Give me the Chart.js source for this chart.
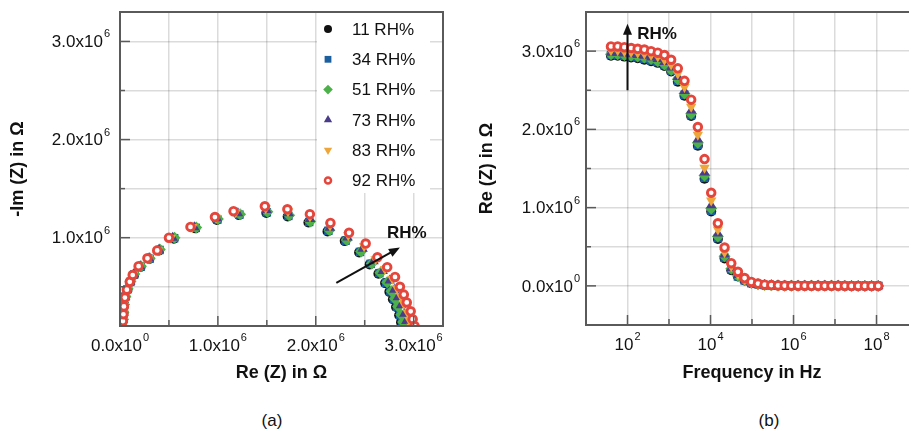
<!DOCTYPE html>
<html>
<head>
<meta charset="utf-8">
<script src="https://cdn.jsdelivr.net/npm/chart.js@4.4.1/dist/chart.umd.min.js"></script>
<style>
    html, body { margin: 0; padding: 0; background: #fff; overflow: hidden; width: 909px; height: 433px; }
    #wrapA { position: absolute; left: 0; top: 0; }
    #wrapB { position: absolute; left: 470px; top: 0; }
    .cap { position: absolute; top: 411px; width: 60px; text-align: center; color: #111;
           font: 17px "Liberation Sans", Arial, sans-serif; }
</style>
</head>
<body>
<div id="wrapA"><canvas id="nyquistChart" width="460" height="390"></canvas></div>
<div id="wrapB"><canvas id="reChart" width="460" height="390"></canvas></div>
<div class="cap" style="left:242px">(a)</div>
<div class="cap" style="left:739px">(b)</div>
<script>
// series
const seriesNames = ['11 RH%', '34 RH%', '51 RH%', '73 RH%', '83 RH%', '92 RH%'];
const seriesColors = ['#111111', '#1c5f9e', '#4db14a', '#4b3c8a', '#eea63a', '#e5463c'];
const seriesShapes = ['circle', 'rect', 'rectRot', 'triangle', 'triangle', 'circle'];
const seriesRotation = [0, 0, 0, 0, 180, 0];

// (a) Nyquist plot: [Re(Z), -Im(Z)] in 10^6 ohm
const nyq11 = [[0.023,0.10],[0.031,0.168],[0.036,0.238],[0.042,0.318],[0.055,0.398],[0.077,0.473],[0.105,0.548],[0.144,0.622],[0.21,0.702],[0.30,0.782],[0.40,0.87],[0.55,0.99],[0.77,1.095],[0.99,1.18],[1.215,1.23],[1.495,1.252],[1.713,1.216],[1.925,1.154],[2.12,1.064],[2.296,0.965],[2.443,0.85],[2.551,0.728],[2.64,0.633],[2.708,0.537],[2.752,0.448],[2.788,0.372],[2.82,0.293],[2.852,0.21],[2.871,0.137],[2.89,0.074],[2.909,0.02]];
const nyq34 = [[0.023,0.10],[0.031,0.17],[0.036,0.24],[0.042,0.32],[0.055,0.40],[0.077,0.475],[0.106,0.55],[0.145,0.625],[0.212,0.705],[0.302,0.785],[0.404,0.875],[0.553,0.995],[0.774,1.10],[0.995,1.185],[1.22,1.235],[1.50,1.258],[1.72,1.222],[1.933,1.16],[2.129,1.07],[2.305,0.97],[2.452,0.855],[2.561,0.733],[2.65,0.638],[2.718,0.541],[2.762,0.452],[2.798,0.375],[2.83,0.296],[2.862,0.212],[2.881,0.139],[2.90,0.075],[2.919,0.02]];
const nyq51 = [[0.023,0.10],[0.031,0.17],[0.036,0.24],[0.042,0.32],[0.055,0.40],[0.078,0.48],[0.107,0.555],[0.146,0.63],[0.214,0.71],[0.304,0.79],[0.407,0.88],[0.557,1.00],[0.779,1.105],[1.00,1.19],[1.227,1.24],[1.506,1.264],[1.728,1.228],[1.943,1.166],[2.139,1.076],[2.316,0.976],[2.463,0.86],[2.572,0.738],[2.661,0.642],[2.729,0.545],[2.773,0.455],[2.809,0.378],[2.841,0.298],[2.873,0.214],[2.892,0.14],[2.911,0.076],[2.93,0.02]];
const nyq73 = [[0.022,0.093],[0.031,0.163],[0.036,0.233],[0.041,0.313],[0.053,0.397],[0.075,0.477],[0.105,0.553],[0.141,0.627],[0.206,0.71],[0.296,0.79],[0.398,0.877],[0.538,1.00],[0.759,1.107],[0.99,1.197],[1.205,1.25],[1.497,1.283],[1.722,1.249],[1.942,1.191],[2.143,1.101],[2.324,1.001],[2.479,0.887],[2.591,0.759],[2.684,0.661],[2.756,0.563],[2.802,0.47],[2.839,0.392],[2.871,0.312],[2.905,0.226],[2.925,0.15],[2.944,0.084],[2.963,0.027]];
const nyq83 = [[0.021,0.087],[0.030,0.157],[0.035,0.227],[0.041,0.307],[0.052,0.393],[0.073,0.473],[0.102,0.552],[0.135,0.623],[0.198,0.71],[0.288,0.79],[0.389,0.873],[0.519,1.00],[0.74,1.108],[0.98,1.203],[1.182,1.26],[1.489,1.301],[1.716,1.269],[1.941,1.215],[2.146,1.125],[2.332,1.025],[2.494,0.913],[2.611,0.779],[2.707,0.681],[2.783,0.582],[2.831,0.485],[2.87,0.406],[2.90,0.326],[2.938,0.238],[2.957,0.16],[2.977,0.092],[2.997,0.033]];
const nyq92 = [[0.02,0.08],[0.03,0.15],[0.035,0.22],[0.04,0.30],[0.05,0.39],[0.07,0.47],[0.10,0.55],[0.13,0.62],[0.19,0.71],[0.28,0.79],[0.38,0.87],[0.50,1.00],[0.72,1.11],[0.97,1.21],[1.16,1.27],[1.48,1.32],[1.71,1.29],[1.94,1.24],[2.15,1.15],[2.34,1.05],[2.51,0.94],[2.63,0.80],[2.73,0.70],[2.81,0.60],[2.86,0.50],[2.90,0.42],[2.93,0.34],[2.97,0.25],[2.99,0.17],[3.01,0.10],[3.03,0.04]];

// (b) Re(Z) in 10^6 ohm against frequency in Hz
const freqHz = [40, 58, 84, 122, 176, 255, 370, 536, 776, 1125, 1630, 2360, 3420, 4955, 7180, 10400, 15070, 21830, 31620, 45810,
    66370, 96160, 139300, 201800, 292400, 423600, 613800, 889200, 1288000, 1866000, 2704000, 3917000, 5675000, 8222000,
    11910000, 17260000, 25000000, 36220000, 52480000, 76030000, 110000000];
const re11 = [2.94,2.94,2.93,2.92,2.91,2.89,2.87,2.85,2.81,2.74,2.61,2.43,2.17,1.79,1.37,0.95,0.60,0.35,0.20,0.12,0.07,0.035,0.02,0.01,0.007,0.004,0.003,0.002,0.002,0.001,0.001,0.001,0.001,0.001,0.001,0,0,0,0,0,0];
const re34 = [2.95,2.95,2.94,2.93,2.92,2.90,2.88,2.86,2.82,2.75,2.62,2.44,2.18,1.80,1.38,0.96,0.61,0.36,0.21,0.12,0.07,0.035,0.02,0.01,0.007,0.004,0.003,0.002,0.002,0.001,0.001,0.001,0.001,0.001,0.001,0,0,0,0,0,0];
const re51 = [2.96,2.96,2.95,2.94,2.93,2.92,2.90,2.87,2.83,2.76,2.64,2.46,2.20,1.83,1.41,0.99,0.63,0.38,0.22,0.13,0.075,0.04,0.02,0.011,0.007,0.004,0.003,0.002,0.002,0.001,0.001,0.001,0.001,0.001,0.001,0,0,0,0,0,0];
const re73 = [2.98,2.98,2.97,2.96,2.95,2.94,2.92,2.90,2.86,2.79,2.67,2.49,2.24,1.87,1.45,1.03,0.67,0.40,0.23,0.14,0.08,0.04,0.022,0.012,0.007,0.004,0.003,0.002,0.002,0.001,0.001,0.001,0.001,0.001,0.001,0,0,0,0,0,0];
const re83 = [3.01,3.01,3.00,2.99,2.98,2.97,2.95,2.93,2.89,2.83,2.71,2.54,2.29,1.93,1.51,1.09,0.72,0.43,0.25,0.15,0.085,0.045,0.025,0.013,0.008,0.005,0.003,0.002,0.002,0.001,0.001,0.001,0.001,0.001,0.001,0,0,0,0,0,0];
const re92 = [3.06,3.06,3.05,3.04,3.03,3.02,3.00,2.98,2.95,2.89,2.78,2.62,2.38,2.03,1.62,1.19,0.80,0.49,0.29,0.18,0.10,0.05,0.03,0.015,0.01,0.006,0.004,0.003,0.002,0.002,0.001,0.001,0.001,0.001,0.001,0.001,0,0,0,0,0];

// axes
const nyqGrid = [0.5, 1, 1.5, 2, 2.5, 3];
const nyqTickValues = [0, 1, 2, 3];
const nyqTickText = ['0.0x10^0', '1.0x10^6', '2.0x10^6', '3.0x10^6'];
const nyqMinor = [0.5, 1.5, 2.5];
const reGrid = [-0.5, 0, 0.5, 1, 1.5, 2, 2.5, 3, 3.5];
const reTickValues = [0, 1, 2, 3];
const reTickText = ['0.0x10^0', '1.0x10^6', '2.0x10^6', '3.0x10^6'];
const reMinor = [0.5, 1.5, 2.5];
const freqGrid = [1e1, 1e2, 1e3, 1e4, 1e5, 1e6, 1e7, 1e8, 1e9];
const freqTickValues = [1e2, 1e4, 1e6, 1e8];
const freqTickText = ['10^2', '10^4', '10^6', '10^8'];
const freqMinor = [1e3, 1e5, 1e7];

const FONT = '"Liberation Sans", Arial, sans-serif';
const gridColor = 'rgba(0,0,0,0.14)';
Chart.defaults.font.family = FONT;

function datasetStyle(i) {
    const hollow = i === 5;
    return {
        label: seriesNames[i],
        pointStyle: seriesShapes[i],
        pointRotation: seriesRotation[i],
        pointRadius: hollow ? 3.8 : (seriesShapes[i] === 'circle' ? 5 : 6),
        pointBackgroundColor: hollow ? '#ffffff' : seriesColors[i],
        pointBorderColor: seriesColors[i],
        pointBorderWidth: hollow ? 2.9 : 0,
        showLine: false,
        order: 5 - i
    };
}

function drawPowerLabel(ctx, text, x, y, align) {
    const parts = text.split('^');
    ctx.font = '17px ' + FONT;
    const wb = ctx.measureText(parts[0]).width;
    ctx.font = '11px ' + FONT;
    const wp = ctx.measureText(parts[1]).width + 1;
    const x0 = align === 'right' ? x - wb - wp : x - (wb + wp) / 2;
    ctx.fillStyle = '#111';
    ctx.textAlign = 'left';
    ctx.textBaseline = 'middle';
    ctx.font = '17px ' + FONT;
    ctx.fillText(parts[0], x0, y);
    ctx.font = '11px ' + FONT;
    ctx.fillText(parts[1], x0 + wb + 1, y - 8);
}

function drawArrow(ctx, x1, y1, x2, y2) {
    const a = Math.atan2(y2 - y1, x2 - x1);
    const head = 11, half = 4.5;
    ctx.strokeStyle = '#111';
    ctx.fillStyle = '#111';
    ctx.lineWidth = 2;
    ctx.beginPath();
    ctx.moveTo(x1, y1);
    ctx.lineTo(x2 - Math.cos(a) * head * 0.7, y2 - Math.sin(a) * head * 0.7);
    ctx.stroke();
    ctx.beginPath();
    ctx.moveTo(x2, y2);
    ctx.lineTo(x2 - head * Math.cos(a) + half * Math.sin(a), y2 - head * Math.sin(a) - half * Math.cos(a));
    ctx.lineTo(x2 - head * Math.cos(a) - half * Math.sin(a), y2 - head * Math.sin(a) + half * Math.cos(a));
    ctx.closePath();
    ctx.fill();
}

function inwardTicks(ctx, scale, area, values, len) {
    values.forEach(v => {
        const p = scale.getPixelForValue(v);
        ctx.beginPath();
        if (scale.isHorizontal()) {
            ctx.moveTo(p, area.bottom);
            ctx.lineTo(p, area.bottom - len);
        } else {
            ctx.moveTo(area.left, p);
            ctx.lineTo(area.left + len, p);
        }
        ctx.stroke();
    });
}

function decorPlugin(cfg) {
    return {
        id: 'decor',
        beforeDatasetsDraw(chart) {
            if (!cfg.legend) return;
            const ctx = chart.ctx, a = chart.chartArea;
            ctx.save();
            ctx.fillStyle = '#fff';
            ctx.fillRect(a.right - 126, a.top + 1, 113, 180);
            chart.data.datasets.forEach((ds, i) => {
                const y = a.top + 17 + i * 30.3;
                const x = a.right - 115;
                ctx.fillStyle = ds.pointBackgroundColor;
                ctx.strokeStyle = ds.pointBorderColor;
                ctx.lineWidth = ds.pointBorderWidth * 0.85;
                Chart.helpers.drawPoint(ctx, {
                    pointStyle: ds.pointStyle, rotation: ds.pointRotation,
                    radius: ds.pointRadius * 0.8, borderWidth: ds.pointBorderWidth
                }, x, y);
                ctx.fillStyle = '#111';
                ctx.font = '17px ' + FONT;
                ctx.textAlign = 'left';
                ctx.textBaseline = 'middle';
                ctx.fillText(ds.label, a.right - 91, y + 1);
            });
            ctx.restore();
        },
        afterDatasetsDraw(chart) {
            const ctx = chart.ctx, a = chart.chartArea;
            const xs = chart.scales.x, ys = chart.scales.y;
            ctx.save();
            ctx.strokeStyle = '#5a5a5a';
            ctx.lineWidth = 2;
            ctx.strokeRect(a.left, a.top, a.right - a.left, a.bottom - a.top);
            ctx.lineWidth = 1.5;
            inwardTicks(ctx, xs, a, cfg.xMajor, 10);
            inwardTicks(ctx, xs, a, cfg.xMinor, 6);
            inwardTicks(ctx, ys, a, cfg.yMajor, 10);
            inwardTicks(ctx, ys, a, cfg.yMinor, 5);
            cfg.xTickValues.forEach((v, i) => {
                drawPowerLabel(ctx, cfg.xTickText[i], xs.getPixelForValue(v), a.bottom + 20, 'center');
            });
            cfg.yTickValues.forEach((v, i) => {
                drawPowerLabel(ctx, cfg.yTickText[i], a.left - cfg.yLabelGap, ys.getPixelForValue(v) + 1, 'right');
            });
            const ar = cfg.arrow;
            drawArrow(ctx, xs.getPixelForValue(ar.from[0]), ys.getPixelForValue(ar.from[1]),
                xs.getPixelForValue(ar.to[0]), ys.getPixelForValue(ar.to[1]));
            ctx.fillStyle = '#111';
            ctx.font = 'bold 17px ' + FONT;
            ctx.textAlign = ar.textAlign;
            ctx.textBaseline = 'middle';
            ctx.fillText('RH%', xs.getPixelForValue(ar.text[0]), ys.getPixelForValue(ar.text[1]));
            ctx.restore();
        }
    };
}

function axisTitle(text, pad) {
    return { display: true, text: text, color: '#111', font: { size: 18, weight: 'bold' }, padding: pad };
}

// (a)
new Chart(document.getElementById('nyquistChart'), {
    type: 'scatter',
    data: {
        datasets: [nyq11, nyq34, nyq51, nyq73, nyq83, nyq92].map((pts, i) => Object.assign(datasetStyle(i), {
            data: pts.map(p => ({ x: p[0], y: p[1] }))
        }))
    },
    options: {
        responsive: false,
        animation: false,
        events: [],
        layout: { padding: { left: 0, right: 17, top: 12, bottom: 0 } },
        scales: {
            x: {
                type: 'linear', min: 0, max: 3.3,
                afterBuildTicks: s => { s.ticks = nyqGrid.map(v => ({ value: v })); },
                afterFit: s => { s.height = 64; },
                grid: { color: gridColor, lineWidth: 1.5, drawTicks: false },
                border: { display: false },
                ticks: { display: false },
                title: axisTitle('Re (Z) in Ω', { top: 0, bottom: 6 })
            },
            y: {
                type: 'linear', min: 0.1, max: 3.3,
                afterBuildTicks: s => { s.ticks = nyqGrid.map(v => ({ value: v })); },
                afterFit: s => { s.width = 120; },
                grid: { color: gridColor, lineWidth: 1.5, drawTicks: false },
                border: { display: false },
                ticks: { display: false },
                title: axisTitle('-Im (Z) in Ω', { top: 7, bottom: 0 })
            }
        },
        plugins: { legend: { display: false }, tooltip: { enabled: false } }
    },
    plugins: [decorPlugin({
        legend: true,
        xMajor: [1, 2, 3], xMinor: nyqMinor, yMajor: [1, 2, 3], yMinor: nyqMinor,
        xTickValues: nyqTickValues, xTickText: nyqTickText,
        yTickValues: [1, 2, 3], yTickText: nyqTickText.slice(1),
        yLabelGap: 10,
        arrow: { from: [2.21, 0.54], to: [2.86, 0.90], text: [2.93, 1.04], textAlign: 'center' }
    })]
});

// (b)
new Chart(document.getElementById('reChart'), {
    type: 'scatter',
    data: {
        datasets: [re11, re34, re51, re73, re83, re92].map((vals, i) => Object.assign(datasetStyle(i), {
            data: vals.map((v, k) => ({ x: freqHz[k], y: v }))
        }))
    },
    options: {
        responsive: false,
        animation: false,
        events: [],
        layout: { padding: { left: 0, right: 12, top: 12, bottom: 0 } },
        scales: {
            x: {
                type: 'logarithmic', min: 1e1, max: 1e9,
                afterBuildTicks: s => { s.ticks = freqGrid.map(v => ({ value: v })); },
                afterFit: s => { s.height = 65; },
                grid: { color: gridColor, lineWidth: 1.5, drawTicks: false },
                border: { display: false },
                ticks: { display: false },
                title: axisTitle('Frequency in Hz', { top: 0, bottom: 6 })
            },
            y: {
                type: 'linear', min: -0.5, max: 3.5,
                afterBuildTicks: s => { s.ticks = reGrid.map(v => ({ value: v })); },
                afterFit: s => { s.width = 116; },
                grid: { color: gridColor, lineWidth: 1.5, drawTicks: false },
                border: { display: false },
                ticks: { display: false },
                title: axisTitle('Re (Z) in Ω', { top: 6, bottom: 0 })
            }
        },
        plugins: { legend: { display: false }, tooltip: { enabled: false } }
    },
    plugins: [decorPlugin({
        legend: false,
        xMajor: freqTickValues, xMinor: freqMinor, yMajor: reTickValues, yMinor: reMinor,
        xTickValues: freqTickValues, xTickText: freqTickText,
        yTickValues: reTickValues, yTickText: reTickText,
        yLabelGap: 6,
        arrow: { from: [100, 2.5], to: [100, 3.35], text: [172, 3.21], textAlign: 'left' }
    })]
});
</script>
</body>
</html>
